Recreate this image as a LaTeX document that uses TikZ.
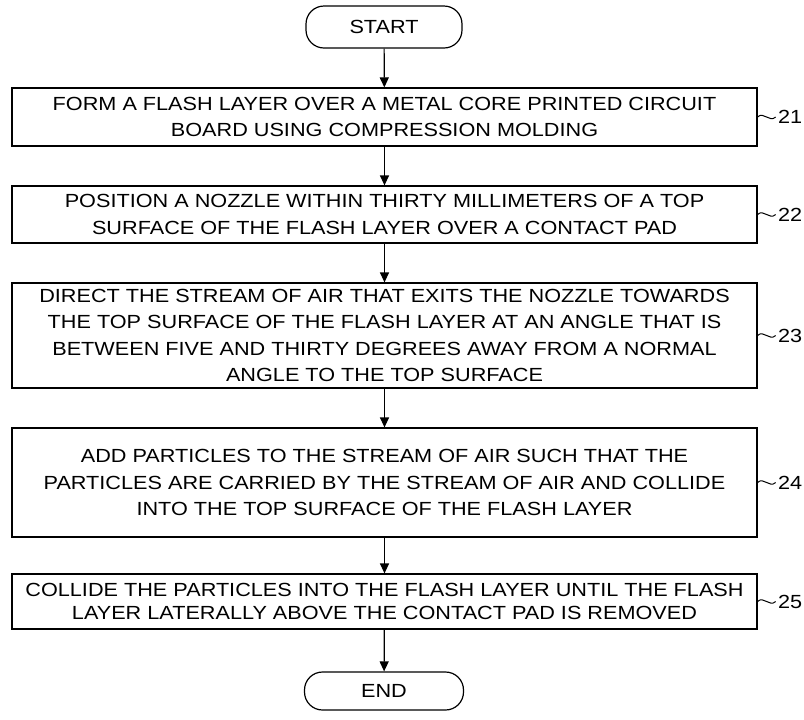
\documentclass[tikz,border=0pt]{standalone}
\usepackage{fontspec}
\setsansfont{Liberation Sans}[FakeStretch=1.14]
\usetikzlibrary{arrows.meta}
\tikzset{
  term/.style={draw, rounded corners=9pt, minimum width=78pt, minimum height=21pt,
               inner sep=0pt, font=\sffamily\fontsize{9.5}{13.3}\selectfont},
  stepbox/.style={draw, minimum width=372.5pt, align=center, inner sep=0pt,
                  font=\sffamily\fontsize{9.5}{13.3}\selectfont},
  flow/.style={-{Triangle[length=5pt, width=4.5pt]}},
  ref/.style={anchor=west, inner sep=1pt, font=\sffamily\fontsize{9.5}{13.3}\selectfont},
  lead/.style={line width=0.5pt},
}

\begin{document}
\begin{tikzpicture}[x=0.5pt, y=-0.5pt, line width=0.6pt]
  \useasboundingbox (0,0) rectangle (804,719);

  % Terminals
  \node[term] (start) at (384,27) {START};
  \node[term, minimum width=79.5pt, minimum height=19pt] (end) at (384,691) {END};

  % Steps
  \node[stepbox, minimum height=29pt] (s21) at (384.5,117)
    {FORM A FLASH LAYER OVER A METAL CORE PRINTED CIRCUIT\\
     BOARD USING COMPRESSION MOLDING};
  \node[stepbox, minimum height=28.5pt] (s22) at (384.5,214.5)
    {POSITION A NOZZLE WITHIN THIRTY MILLIMETERS OF A TOP\\
     SURFACE OF THE FLASH LAYER OVER A CONTACT PAD};
  \node[stepbox, minimum height=52.5pt] (s23) at (384.5,335.5)
    {DIRECT THE STREAM OF AIR THAT EXITS THE NOZZLE TOWARDS\\
     THE TOP SURFACE OF THE FLASH LAYER AT AN ANGLE THAT IS\\
     BETWEEN FIVE AND THIRTY DEGREES AWAY FROM A NORMAL\\
     ANGLE TO THE TOP SURFACE};
  \node[stepbox, minimum height=54.5pt] (s24) at (384.5,482.5)
    {ADD PARTICLES TO THE STREAM OF AIR SUCH THAT THE\\
     PARTICLES ARE CARRIED BY THE STREAM OF AIR AND COLLIDE\\
     INTO THE TOP SURFACE OF THE FLASH LAYER};
  \node[stepbox, minimum height=27.5pt, font=\sffamily\fontsize{9.5}{11.8}\selectfont] (s25) at (384.5,601.5)
    {COLLIDE THE PARTICLES INTO THE FLASH LAYER UNTIL THE FLASH\\
     LAYER LATERALLY ABOVE THE CONTACT PAD IS REMOVED};

  % Reference numerals
  \foreach \n in {21,...,25} {
    \node[ref] (l\n) at ([xshift=9pt]s\n.east) {\n};
    \draw[lead] (s\n.east) .. controls +(6,-6) and +(-6,6) .. (l\n.west);
  }

  % Flow
  \draw[flow] (start) -- (s21);
  \draw[flow] (s21) -- (s22);
  \draw[flow] (s22) -- (s23);
  \draw[flow] (s23) -- (s24);
  \draw[flow] (s24) -- (s25);
  \draw[flow] (s25) -- (end);

\end{tikzpicture}
\end{document}
